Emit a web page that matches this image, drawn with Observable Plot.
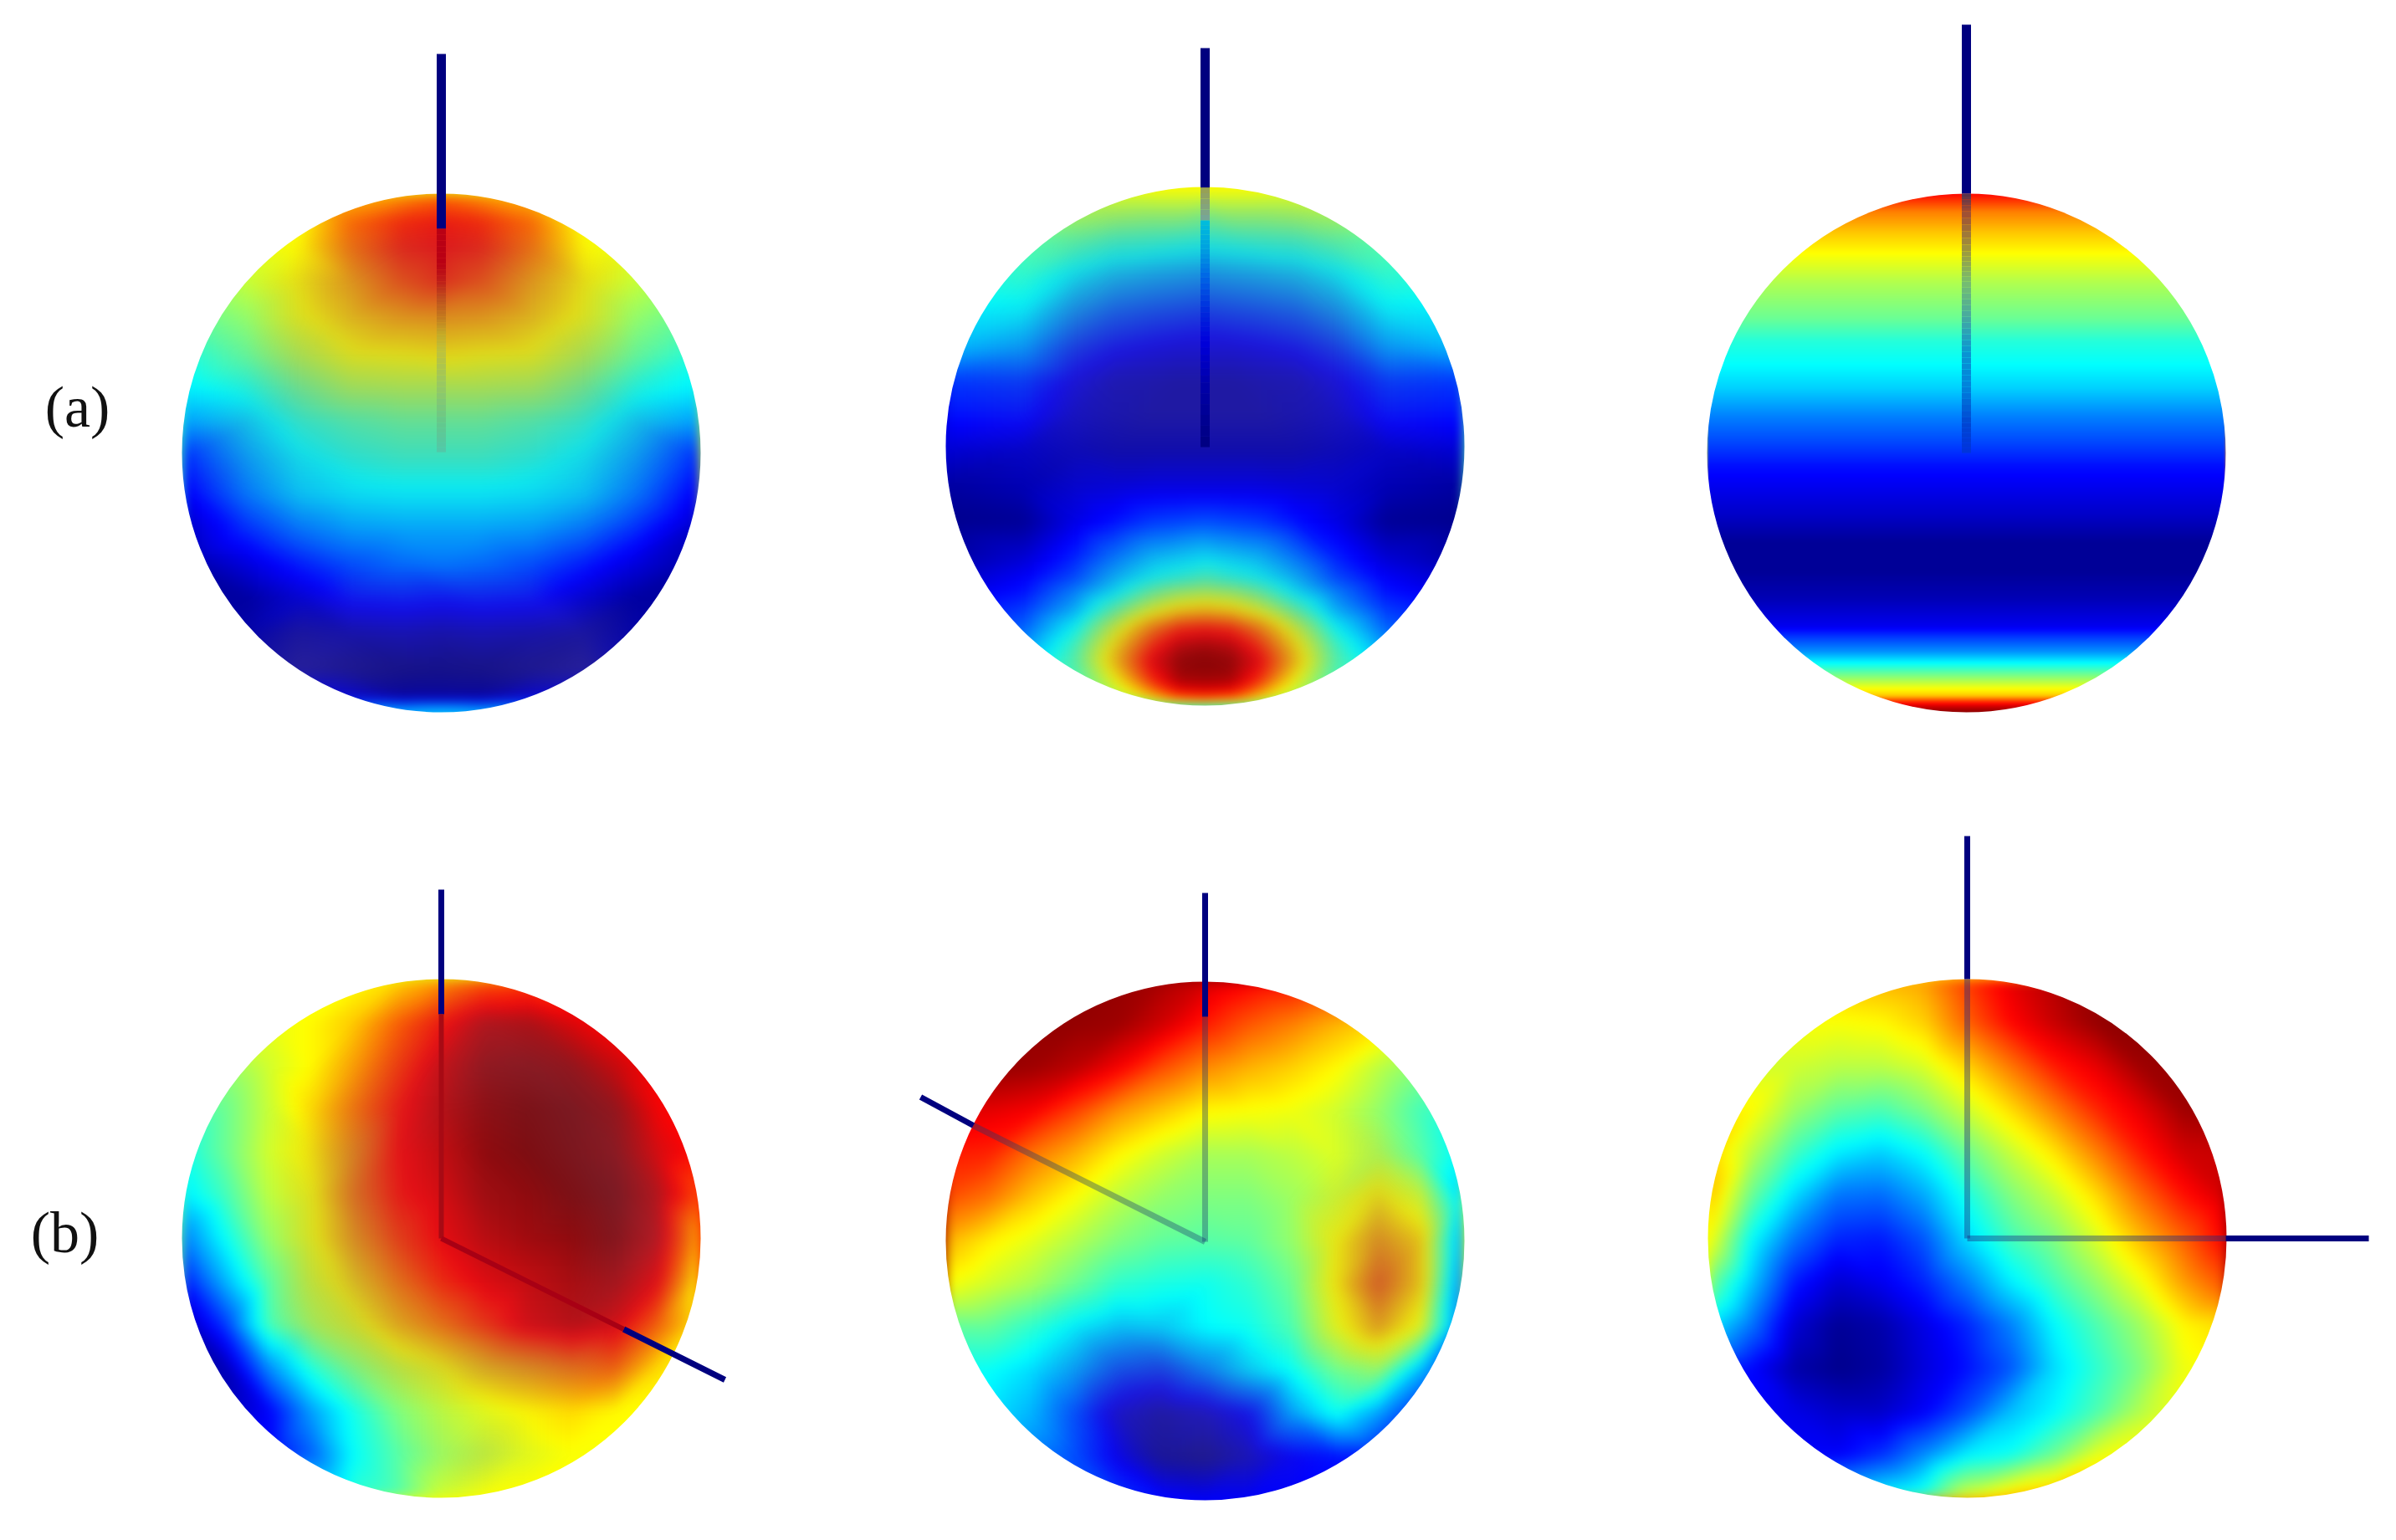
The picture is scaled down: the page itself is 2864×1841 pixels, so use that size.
<!DOCTYPE html>
<html><head><meta charset="utf-8">
<style>html,body{margin:0;padding:0;background:#fff}svg{display:block}</style>
<script src="https://cdn.jsdelivr.net/npm/d3@7"></script>
<script src="https://cdn.jsdelivr.net/npm/@observablehq/plot@0.6"></script>
</head><body><div id="chart"></div>
<script>
// colour scale stops (value -> jet)
const jetDomain=[0,12.5,37.5,62.5,87.5,100];
const jetRange=["#000083","#0000ff","#00ffff","#ffff00","#ff0000","#800000"];
const shadeColor="#6e5a78";
const navy="#00007f";
const labels=[{t:"(a)",x:92,y:509},{t:"(b)",x:77,y:1496}];

// sample stops, % of sphere radius
const uniform13=[-100,-83.3,-66.7,-50,-33.3,-16.7,0,16.7,33.3,50,66.7,83.3,100];
const mirror=r=>[...r,...r.slice(0,-1).reverse()];
const a1Cols=[-100,-75,-55,-35,-15,0,15,35,55,75,100];
const a1Rows=[-100,-89,-79,-66,-52,-37,-25,-12,2,16,29,43,56,70,83,94,100];
const a1Values=[
[60,60,62,68,72,76],[58,60,62,77,84,86],[58,60,63,76,85,87],[52,57,63,71,80,84],
[46,52,61,67,71,72],[40,47,55,61,62,63],[36,40,48,54,55,55],[28,33,41,45,47,47],
[16,28,36,40,42,42],[11,24,32,35,36,36],[6,17,24,28,29,29],[3,9,15,20,23,24],
[3,3,8,14,15,14],[4,4,4,5,6,5],[6,6,4,2,1,1],[15,15,12,8,3,3],[30,30,30,30,35,38]].map(mirror);
const a1Shade=[
[0,0,0,0,0,0],[0,0,0,5,12,15],[0,0,5,18,25,25],[0,0,20,25,25,25],[0,2,20,25,25,25],
[0,8,22,22,22,22],[0,12,22,22,22,22],[0,18,20,20,20,20],[0,12,18,20,20,20],[0,5,10,10,10,10],
[0,2,5,5,5,5],[0,0,3,3,3,3],[0,0,5,15,15,15],[0,5,25,22,22,22],[0,10,35,28,22,20],[0,0,10,10,8,8],[0,0,0,0,0,0]].map(mirror);

const a2Cols=[-100,-70,-50,-35,-20,-10,0,10,20,35,50,70,100];
const a2Rows=[-100,-89,-79,-66,-52,-37,-25,-12,2,16,29,43,51,56,63,70,77,83,90,96,100];
const a2Values=[
[50,55,60,62,63,63,63],[46,50,54,53,52,52,50],[42,46,46,43,42,41,40],[38,42,36,32,30,29,28],
[36,36,27,22,20,19,18],[30,27,17,13,11,10,10],[18,18,11,7,6,5,5],[14,14,8,6,5,5,5],
[8,7,6,5,5,5,5],[3,5,8,9,10,10,10],[1,2,10,14,18,19,20],[3,8,16,24,31,33,35],
[6,12,20,30,38,41,44],[9,14,25,35,47,52,54],[12,18,30,46,60,66,68],[18,22,38,58,76,84,86],
[25,27,44,65,85,94,96],[35,35,46,68,90,98,99],[35,35,44,62,85,96,97],[35,35,40,55,72,84,86],[35,35,38,45,50,56,60]].map(mirror);
const a2Shade=[
[0,0,0,0,0,0,0],[0,0,10,15,15,15,15],[0,0,15,20,20,20,20],[0,5,20,25,25,25,25],[0,10,25,25,25,25,25],
[0,10,25,25,25,25,25],[0,10,25,28,28,28,28],[0,10,22,25,28,28,28],[0,5,12,15,15,15,15],[0,0,5,5,5,5,5],
[0,0,0,0,0,0,0],[0,0,0,5,10,12,12],[0,0,3,12,18,20,20],[0,0,5,15,20,20,20],[0,0,8,20,20,20,20],
[0,0,10,22,20,18,18],[0,0,12,22,18,12,10],[0,0,12,20,15,8,5],[0,0,5,12,10,5,5],[0,0,0,5,5,2,2],[0,0,0,0,0,0,0]].map(mirror);

const a3Cols=[-100,100];
const a3Rows=[-100,-93,-85,-77,-66,-52,-43,-34,-25,-14,-3.4,4.7,12.9,23.7,34.6,45.5,56,67,71,76.7,82,86,90,93.6,95.7,97.7,100];
const a3Line=[87,75,68,62.5,55,48,41,37.5,33,25,19,14,11,7,2,2,5,11,18,27,40,50,60,68,82,92,99];
const a3Values=a3Line.map(v=>[v,v]);

const b1Values=[
[60,60,60,60,62,66,72,78,80,82,84,85,85],
[58,58,60,63,68,78,86,93,94,90,86,85,85],
[50,52,58,63,72,82,91,97,98,97,92,87,86],
[45,48,57,66,76,86,93,98,100,100,97,88,86],
[39,48,58,64,74,87,92,98,100,100,98,90,86],
[35,44,56,62,76,86,90,96,98,100,100,93,80],
[24,38,52,61,72,82,88,93,96,98,99,92,70],
[14,30,46,58,66,76,84,89,92,95,95,88,63],
[4,18,44,54,60,69,76,83,90,93,90,78,64],
[4,5,26,41,50,57,62,68,72,76,78,66,62],
[5,5,12,28,40,50,56,60,63,66,63,62,62],
[10,10,12,22,38,46,53,57,60,62,62,62,62],
[40,40,40,40,42,46,58,62,63,63,63,63,63]];
const b1Shade=[
[0,0,0,0,0,0,0,0,0,0,0,0,0],
[0,0,0,0,0,5,15,25,20,8,0,0,0],
[0,0,0,0,5,15,22,28,30,25,12,0,0],
[0,0,0,3,15,20,20,18,20,28,25,5,0],
[0,0,0,15,30,20,15,12,15,25,30,15,0],
[0,0,0,20,30,20,15,15,12,18,30,25,0],
[0,0,0,20,30,22,15,15,12,12,25,30,2],
[0,0,0,20,30,22,15,15,15,15,25,20,2],
[0,0,0,15,25,25,20,20,20,20,20,10,0],
[0,0,0,0,10,20,25,30,30,25,15,0,0],
[0,0,0,0,0,0,5,5,5,0,0,0,0],
[0,0,0,0,0,0,5,15,5,0,0,0,0],
[0,0,0,0,0,0,0,0,0,0,0,0,0]];

const b2Values=[
[98,98,98,98,98,96,92,88,86,84,80,75,70],
[98,98,98,98,97,92,85,79,75,70,66,62,62],
[98,98,97,94,88,80,74,70,67,63,56,50,48],
[90,90,88,81,73,68,63,62,61,58,52,44,42],
[85,84,76,70,63,58,54,54,56,59,55,46,36],
[80,76,68,62,56,52,50,50,53,58,64,58,32],
[70,64,60,55,50,47,46,47,52,62,72,66,26],
[62,58,54,48,42,40,39,42,48,63,78,66,22],
[47,47,42,36,32,33,37,39,45,60,70,60,20],
[38,38,34,28,20,18,25,33,38,48,52,30,15],
[35,35,30,20,9,5,8,13,28,38,28,15,15],
[25,25,25,20,11,3,2,7,12,14,14,14,14],
[20,20,20,20,18,14,12,12,12,12,12,12,12]];
const b2Shade=[
[0,0,0,0,0,0,0,0,0,0,0,0,0],
[0,0,0,0,0,0,0,0,0,0,0,0,0],
[0,0,0,0,0,0,0,0,0,0,0,0,0],
[0,0,0,0,0,0,0,0,0,0,0,0,0],
[0,0,0,0,0,0,0,0,0,0,10,0,0],
[0,0,0,0,0,0,0,0,0,10,25,10,0],
[0,0,0,0,0,0,0,0,0,15,30,20,0],
[0,0,0,0,0,0,0,0,0,15,32,20,0],
[0,0,0,5,8,8,0,0,0,10,25,10,0],
[0,0,0,10,20,25,15,10,0,0,5,0,0],
[0,0,0,5,25,30,30,20,5,0,0,0,0],
[0,0,0,0,10,25,30,25,10,0,0,0,0],
[0,0,0,0,0,0,0,0,0,0,0,0,0]];

const b3Values=[
[66,66,66,68,70,72,82,90,95,96,96,96,96],
[62,62,62,62,63,67,78,87,93,98,99,99,99],
[58,58,58,56,56,59,67,76,85,90,97,98,98],
[64,63,53,47,45,50,58,66,75,84,90,97,98],
[68,56,44,36,33,38,48,57,65,75,85,92,93],
[70,48,34,24,23,29,40,50,57,66,77,86,92],
[63,38,24,16,15,21,34,44,50,59,69,78,88],
[50,32,15,8,11,16,25,36,44,52,61,72,80],
[36,24,8,2,4,10,16,25,37,45,53,63,66],
[15,13,4,1,3,9,14,21,34,42,50,61,62],
[12,12,10,7,7,12,20,31,37,45,55,62,62],
[12,12,12,12,17,26,36,39,48,60,64,64,64],
[35,35,35,35,38,42,60,68,72,72,72,72,72]];

const R=310;
const spheres=[
 {cx:527,cy:541,cols:a1Cols,rows:a1Rows,values:a1Values,shade:a1Shade},
 {cx:1440,cy:533,cols:a2Cols,rows:a2Rows,values:a2Values,shade:a2Shade},
 {cx:2350,cy:541,cols:a3Cols,rows:a3Rows,values:a3Values},
 {cx:527,cy:1480,cols:uniform13,rows:uniform13,values:b1Values,shade:b1Shade},
 {cx:1440,cy:1483,cols:uniform13,rows:uniform13,values:b2Values,shade:b2Shade},
 {cx:2351,cy:1480,cols:uniform13,rows:uniform13,values:b3Values}
];

// axis segments: solid outer parts and see-through inner parts
const axisSolid=[
 [527,64,527,273,11],[1440,57,1440,224,11],[2350,29,2350,231,11],
 [527,1063,527,1212,7],[745,1588.5,866,1649,7],
 [1440,1067,1440,1215,7],[1100,1311,1163,1345,7],
 [2351,999,2351,1170,7],[2660,1480,2831,1480,7]];
const axisInner=[
 [527,1212,527,1480,6,"#a80a14",1],[527,1480,745,1588.5,6,"#a80014",1],
 [1440,1215,1440,1484,7,"#1a3a70",.38],[1163,1345,1440,1484,7,"#1a3a70",.38],
 [2351,1170,2351,1480,7,"#1a2a80",.42],[2351,1480,2660,1480,7,"#1a2a80",.42]];
const fadeA1={x:527,w:11,stops:[[273,"#b90014"],[315,"#b90014"],[336,"#be1e19"],[357,"#be501e"],[378,"#c3781e"],[399,"#c3aa28"],[420,"#bec33c"],[462,"#96c864"],[505,"#64c88c"],[540,"#50c8aa"]]};
const fadeA2a={x:1440,w:11,stops:[[224,"#9aa050"],[263,"#74a69c"]]};
const fadeA2b={x:1440,w:11,stops:[[263,"#00bedc"],[297,"#00a0e0"],[331,"#0064e6"],[373,"#0028dc"],[407,"#0000dc"],[457,"#0000aa"],[534,"#00007f"]]};
const fadeA3={x:2350,w:11,stops:[[231,"#54304e"],[252,"#a04a32"],[300,"#9e9a3c"],[336,"#78be6e"],[378,"#46aaa0"],[420,"#0a96d2"],[462,"#0082dc"],[505,"#0046d2"],[541,"#0032dc"]]};

function samples(s,table){
  const out=[];
  s.rows.forEach((v,j)=>s.cols.forEach((u,i)=>out.push({x:s.cx+u*R/100,y:s.cy+v*R/100,v:table[j][i]})));
  return out;
}
const marks=[];
for(const s of spheres){
  const box={x1:s.cx-R-30,x2:s.cx+R+30,y1:s.cy-R-30,y2:s.cy+R+30};
  const soft=s.cols.length===2?"blur(1.5px)":"blur(7px)";
  marks.push(Plot.raster(samples(s,s.values),{x:"x",y:"y",fill:"v",interpolate:"barycentric",pixelSize:1,imageFilter:soft,...box}));
  if(s.shade) marks.push(Plot.raster(samples(s,s.shade),{x:"x",y:"y",fill:shadeColor,fillOpacity:"v",interpolate:"barycentric",pixelSize:1,imageFilter:soft,...box}));
}
marks.push(Plot.dot(spheres,{x:"cx",y:"cy",r:R+100,fill:"none",stroke:"#fff",strokeWidth:200}));
const link=(a,b,c,d,w,col,o=1)=>Plot.link([{a,b,c,d}],{x1:"a",y1:"b",x2:"c",y2:"d",stroke:col,strokeWidth:w,strokeOpacity:o});
for(const [a,b,c,d,w] of axisSolid) marks.push(link(a,b,c,d,w,navy));
for(const [a,b,c,d,w,col,o] of axisInner) marks.push(link(a,b,c,d,w,col,o));
for(const f of [fadeA1,fadeA2a,fadeA2b,fadeA3]){
  d3.pairs(f.stops).forEach(([[y0,c0],[y1,c1]])=>{
    const ic=d3.interpolateRgb(c0,c1),n=6;
    for(let k=0;k<n;k++) marks.push(link(f.x,y0+(y1-y0)*k/n,f.x,y0+(y1-y0)*(k+1)/n,f.w,ic((k+.5)/n)));
  });
}
marks.push(Plot.text(labels,{x:"x",y:"y",text:"t",fontFamily:"Liberation Serif",fontSize:70,fill:"#111",textAnchor:"middle",lineAnchor:"bottom"}));

const chart=Plot.plot({
  width:2864,height:1841,margin:0,
  x:{domain:[0,2864],range:[0,2864],axis:null},
  y:{domain:[0,1841],range:[0,1841],axis:null},
  color:{type:"linear",domain:jetDomain,range:jetRange,interpolate:"rgb"},
  opacity:{type:"linear",domain:[0,100],range:[0,1]},
  style:{background:"#fff"},
  marks
});
document.getElementById("chart").append(chart);
</script></body></html>
